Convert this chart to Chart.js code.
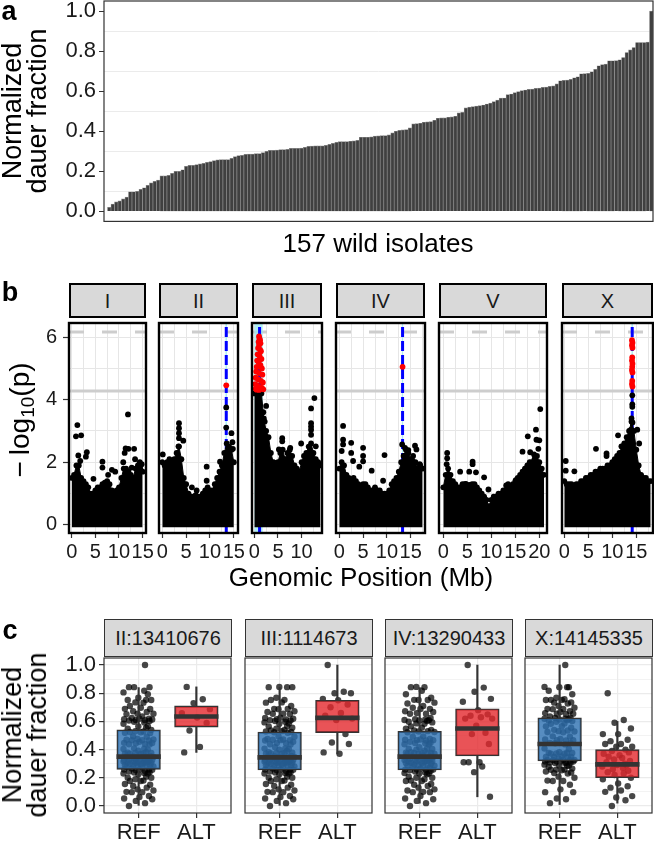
<!DOCTYPE html>
<html>
<head>
<meta charset="utf-8">
<title>Dauer fraction GWAS figure</title>
<script src="https://cdn.jsdelivr.net/npm/chart.js@4.4.1/dist/chart.umd.min.js"></script>
<style>
  body { margin:0; width:654px; height:841px; position:relative; overflow:hidden; background:#fff;
         font-family:"Liberation Sans", Arial, Helvetica, sans-serif; color:#000; }
  canvas { position:absolute; }
  .txt { position:absolute; white-space:nowrap; line-height:1; }
  .strip { position:absolute; background:#d9d9d9; box-sizing:border-box; text-align:center; color:#1a1a1a; font-size:20px; }
</style>
</head>
<body>
<script>
// ---------- panel a : sorted phenotype of 157 wild isolates ----------
const dauerFraction = [
  0.000, 0.020, 0.036, 0.048, 0.053, 0.063, 0.071, 0.098, 0.098, 0.100,
  0.110, 0.118, 0.130, 0.142, 0.150, 0.156, 0.177, 0.177, 0.180, 0.190,
  0.200, 0.200, 0.208, 0.225, 0.230, 0.230, 0.233, 0.237, 0.240, 0.245,
  0.248, 0.253, 0.257, 0.258, 0.258, 0.258, 0.265, 0.273, 0.278, 0.280,
  0.285, 0.286, 0.286, 0.288, 0.288, 0.293, 0.300, 0.305, 0.305, 0.306,
  0.308, 0.308, 0.310, 0.315, 0.315, 0.315, 0.316, 0.320, 0.325, 0.326,
  0.327, 0.327, 0.327, 0.330, 0.335, 0.340, 0.345, 0.348, 0.348, 0.348,
  0.350, 0.352, 0.354, 0.370, 0.370, 0.370, 0.372, 0.376, 0.377, 0.378,
  0.378, 0.382, 0.392, 0.400, 0.404, 0.407, 0.408, 0.417, 0.437, 0.438,
  0.440, 0.445, 0.447, 0.448, 0.455, 0.465, 0.467, 0.467, 0.470, 0.472,
  0.475, 0.492, 0.494, 0.517, 0.520, 0.523, 0.525, 0.528, 0.531, 0.536,
  0.540, 0.548, 0.555, 0.565, 0.566, 0.583, 0.586, 0.593, 0.598, 0.603,
  0.606, 0.609, 0.610, 0.614, 0.615, 0.619, 0.620, 0.624, 0.626, 0.636,
  0.652, 0.654, 0.655, 0.659, 0.667, 0.672, 0.687, 0.688, 0.689, 0.697,
  0.709, 0.727, 0.733, 0.735, 0.752, 0.752, 0.753, 0.757, 0.768, 0.793,
  0.806, 0.818, 0.843, 0.843, 0.843, 0.845, 1.000
];

// ---------- panel b : GWAS, -log10(p) by chromosome ----------
const chromNames = ['I', 'II', 'III', 'IV', 'V', 'X'];
const BIN_MB = 0.5; // envelope of the dense marker cloud, one value per 0.5 Mb from 0
const envI   = [1.5,1.6,1.9,1.9,1.5,1.4,1.3,1.2,1.0,1.0,1.1,1.2,1.2,1.3,1.35,1.4,1.3,1.1,1.0,1.1,1.2,1.5,1.8,1.8,1.7,1.6,1.5,1.8,1.9,1.8,1.7];
const envII  = [2.0,1.9,2.0,2.1,2.0,2.1,2.3,2.5,2.1,1.5,1.3,1.0,0.9,0.9,0.95,0.9,0.9,1.0,1.1,1.2,1.1,1.1,1.3,1.5,1.7,1.9,2.3,2.6,2.5,2.4,2.0];
const envIII = [4.2,4.25,4.25,4.2,3.4,3.0,2.8,2.3,2.0,1.9,2.0,2.3,2.4,2.1,2.3,2.4,2.2,1.9,1.8,1.7,2.0,2.2,2.3,2.5,2.6,2.3,2.1,2.0,1.9];
const envIV  = [1.8,2.0,1.9,1.6,1.5,1.4,1.5,1.4,1.3,1.2,1.3,1.3,1.2,1.1,1.1,1.2,1.1,1.1,1.0,1.0,1.0,1.1,1.3,1.4,1.5,1.7,2.0,2.2,2.4,2.3,2.1,2.2,2.0,1.8,1.9,1.8];
const envV   = [1.2,1.6,1.8,1.6,1.4,1.3,1.2,1.2,1.3,1.3,1.2,1.2,1.3,1.3,1.2,1.1,1.0,0.9,0.8,0.6,0.8,0.9,0.9,1.0,1.0,1.1,1.1,1.3,1.2,1.3,1.4,1.5,1.6,1.7,1.8,1.9,2.0,2.0,2.1,2.2,2.0,1.8,1.6];
const envX   = [1.4,1.3,1.3,1.3,1.2,1.3,1.3,1.4,1.4,1.5,1.5,1.6,1.6,1.7,1.7,1.8,1.8,1.8,1.9,1.9,2.0,2.1,2.2,2.3,2.5,2.6,2.8,3.0,3.3,3.0,2.4,1.9,1.6,1.5,1.5,1.4,1.4];

// markers standing above the cloud: [position Mb, -log10 p]
const hitsI   = [[1.2,3.19],[0.9,2.83],[2.0,2.86],[1.4,2.22],[3.2,2.32],[3.0,2.18],[1.8,2.04],[4.6,1.47],[6.5,2.02],[6.5,1.83],[8.5,1.76],[9.2,1.70],[7.7,1.60],[11.9,3.53],[11.4,2.44],[12.0,2.43],[13.2,2.43],[11.2,2.30],[13.4,2.10],[14.4,2.00],[14.8,1.94],[10.9,2.00],[12.7,1.83]];
const hitsII  = [[3.5,3.25],[3.5,3.09],[3.5,2.93],[3.5,2.77],[4.4,2.69],[3.4,2.51],[9.3,1.86],[9.3,1.41],[6.2,1.20],[7.2,1.10],[12.1,2.02],[13.4,3.75],[13.4,3.11],[14.5,2.93],[14.7,2.64],[14.8,2.43],[13.8,2.30],[0.1,2.25]];
const hitsIII = [[2.5,3.80],[5.9,2.77],[5.9,2.67],[7.6,2.46],[9.9,2.60],[12.0,2.88],[12.0,3.04],[12.0,3.14],[12.0,3.25],[12.0,3.72],[12.7,4.05],[13.0,2.51],[5.2,2.41],[4.2,1.99],[2.2,3.30],[1.9,3.60]];
const hitsIV  = [[0.8,3.16],[0.8,2.72],[0.8,2.57],[2.5,2.62],[0.5,2.36],[2.5,2.30],[5.0,2.46],[5.0,2.20],[5.0,2.03],[4.2,1.86],[2.9,2.04],[6.8,1.73],[9.5,2.23],[9.2,1.41],[13.2,2.57],[13.8,2.46],[14.5,2.39],[15.9,2.53],[16.2,2.41],[16.9,1.94]];
const hitsV   = [[0.8,2.30],[0.8,2.13],[0.7,1.94],[3.5,1.70],[6.1,2.02],[6.1,1.94],[5.4,1.70],[6.8,1.68],[8.5,1.52],[4.7,1.31],[5.4,1.28],[9.4,1.13],[13.1,1.26],[15.1,1.43],[16.5,2.34],[17.6,2.83],[19.3,3.04],[20.2,3.70],[19.4,2.72],[20.0,2.70],[18.1,2.32],[19.8,2.43],[18.9,2.25]];
const hitsX   = [[0.3,2.04],[0.3,1.73],[2.1,1.71],[6.6,2.43],[8.8,2.28],[8.8,2.20],[11.2,2.86],[11.9,2.51],[12.5,2.41],[10.9,2.09],[13.9,3.04],[15.2,3.04],[15.6,2.60],[14.17,4.14],[14.17,3.85],[14.17,3.77],[14.0,3.40],[14.2,3.27]];

// significant markers (red)
const sigII  = [[13.41,4.46]];
const sigIII = [[1.0,6.02],[1.1,5.95],[1.2,5.9],[0.9,5.85],[1.3,5.8],[1.0,5.75],[0.8,5.65],[1.2,5.6],[1.4,5.55],[0.7,5.45],[1.1,5.4],[1.5,5.3],[0.6,5.25],[0.9,5.2],[1.3,5.1],[0.5,5.05],[1.6,5.0],[0.4,4.9],[1.0,4.85],[1.7,4.8],[0.3,4.7],[0.8,4.65],[1.4,4.6],[1.8,4.55],[0.2,4.5],[0.6,4.45],[1.2,4.4],[1.6,4.38],[0.3,4.35],[1.9,4.33],[0.5,4.32],[1.0,4.31]];
const sigIV  = [[13.29,5.05]];
const sigX   = [[14.1,5.9],[14.2,5.82],[14.1,5.74],[14.2,5.66],[14.15,5.35],[14.1,5.25],[14.2,5.15],[14.15,5.05],[14.1,4.95],[14.2,4.87],[14.15,4.6],[14.1,4.5],[14.2,4.42]];

const qtlPeaks = [null, 13.41, 1.11, 13.29, null, 14.15];
const qtlIntervals = [null, [13.2,13.6], [0.0,1.8], [13.1,13.45], null, [13.95,14.35]];
const thresholdEigen = 4.28;
const thresholdBonferroni = 6.16;

// ---------- panel c : phenotype split by genotype at QTL peak markers ----------
const peakMarkers = ['II:13410676', 'III:1114673', 'IV:13290433', 'X:14145335'];
const altII  = [0.845, 0.757, 0.73, 0.687, 0.659, 0.628, 0.589, 0.535, 0.419, 0.38];
const altIII = [1.0, 0.81, 0.80, 0.80, 0.76, 0.75, 0.72, 0.70, 0.66, 0.64, 0.62, 0.61, 0.51, 0.45, 0.44, 0.38, 0.37];
const altIV  = [1.0, 0.84, 0.81, 0.76, 0.74, 0.68, 0.65, 0.64, 0.63, 0.62, 0.62, 0.57, 0.52, 0.51, 0.44, 0.31, 0.31, 0.31, 0.28, 0.24, 0.065];
const altX   = [0.80, 0.61, 0.59, 0.55, 0.51, 0.51, 0.47, 0.46, 0.44, 0.44, 0.42, 0.42, 0.40, 0.39, 0.38, 0.37, 0.36, 0.35, 0.34, 0.33, 0.32, 0.31, 0.30, 0.29, 0.29, 0.28, 0.27, 0.26, 0.25, 0.24, 0.23, 0.22, 0.20, 0.19, 0.16, 0.14, 0.13, 0.11, 0.10, 0.07, 0.06, 0.04, 0.0];
// box stats: [lower whisker, Q1, median, Q3, upper whisker]
const refBoxII  = [0.00, 0.26, 0.35, 0.54, 0.84];
const altBoxII  = [0.38, 0.56, 0.635, 0.71, 0.845];
const refBoxIII = [0.00, 0.255, 0.345, 0.525, 0.84];
const altBoxIII = [0.37, 0.52, 0.625, 0.75, 1.00];
const refBoxIV  = [0.02, 0.255, 0.35, 0.53, 0.84];
const altBoxIV  = [0.065, 0.355, 0.55, 0.69, 1.00];
const refBoxX   = [0.01, 0.32, 0.44, 0.625, 1.00];
const altBoxX   = [0.02, 0.20, 0.295, 0.40, 0.60];

// fixed horizontal jitter pattern for the points (fractions of the half-width)
const JITTER = [-0.62, 0.41, -0.18, 0.87, -0.93, 0.05, 0.66, -0.44, 0.23, -0.78, 0.95, -0.07, 0.52, -0.35, 0.74,
                -0.88, 0.14, -0.56, 0.31, -0.21, 0.81, -0.70, 0.48, -0.02, 0.59, -0.97, 0.36, -0.29, 0.70];

// ---------- setup ----------
const FONT = '"Liberation Sans", Arial, Helvetica, sans-serif';
Chart.defaults.font.family = FONT;
Chart.defaults.color = '#1a1a1a';
Chart.defaults.animation = false;
Chart.defaults.plugins.legend.display = false;
Chart.defaults.plugins.tooltip.enabled = false;

// panel border drawn over the data
Chart.register({
  id: 'frame',
  defaults: { color: '#333', width: 1.2 },
  afterDatasetsDraw(chart, args, opts) {
    const a = chart.chartArea, ctx = chart.ctx;
    ctx.save();
    ctx.strokeStyle = opts.color;
    ctx.lineWidth = opts.width;
    ctx.strokeRect(a.left, a.top, a.right - a.left, a.bottom - a.top);
    ctx.restore();
  }
});

const CLEAR = 'rgba(0,0,0,0)';

function addCanvas(left, top, w, h) {
  const c = document.createElement('canvas');
  c.width = w; c.height = h;
  c.style.left = left + 'px'; c.style.top = top + 'px';
  c.style.width = w + 'px'; c.style.height = h + 'px';
  document.body.appendChild(c);
  return c;
}

function addText(html, cx, cy, style, rotate) {
  const d = document.createElement('div');
  d.className = 'txt';
  d.innerHTML = html;
  d.style.cssText = 'left:' + cx + 'px;top:' + cy + 'px;transform:translate(-50%,-50%)' +
    (rotate ? ' rotate(-90deg)' : '') + ';' + style;
  document.body.appendChild(d);
}

function addStrip(text, left, top, w, h, border) {
  const d = document.createElement('div');
  d.className = 'strip';
  d.textContent = text;
  d.style.cssText = 'left:' + left + 'px;top:' + top + 'px;width:' + w + 'px;height:' + h + 'px;border:' + border +
    ';line-height:' + (h - 2) + 'px;';
  document.body.appendChild(d);
}

function steps(a, b, step) {
  const out = [];
  for (let v = a; v <= b + 1e-9; v += step) out.push(+v.toFixed(4));
  return out;
}
function fixedTicks(values) {
  return scale => { scale.ticks = values.map(v => ({ value: v })); };
}

// ---------- panel a ----------
const isEvenTenth = v => Math.round(v * 10) % 2 === 0;

new Chart(addCanvas(0, 0, 654, 232), {
  type: 'bar',
  data: {
    labels: dauerFraction.map((v, i) => i + 1),
    datasets: [{
      data: dauerFraction,
      backgroundColor: '#404040',
      borderColor: '#8a8a8a',
      borderWidth: 0.7,
      barPercentage: 1,
      categoryPercentage: 1
    }]
  },
  options: {
    responsive: false,
    layout: { padding: { top: 1, right: 1, bottom: 10.6, left: 0 } },
    plugins: { frame: { color: '#333', width: 1.2 } },
    scales: {
      x: { display: false },
      y: {
        min: -0.05, max: 1.05,
        afterBuildTicks: fixedTicks(steps(0, 1, 0.1)),
        afterFit: s => { s.width = 104; s.paddingTop = 0; s.paddingBottom = 0; },
        border: { display: false },
        grid: {
          color: c => isEvenTenth(c.tick.value) ? CLEAR : '#ebebeb',
          tickColor: c => isEvenTenth(c.tick.value) ? '#333' : CLEAR,
          tickLength: 5, lineWidth: 1
        },
        ticks: { font: { size: 22, family: FONT }, color: '#1a1a1a', padding: 3, autoSkip: false,
                 callback: v => isEvenTenth(v) ? v.toFixed(1) : '' }
      }
    }
  }
});

addText('a', 9, 11, 'font-size:27px;font-weight:bold;');
addText('Normalized<br>dauer fraction', 25, 111, 'font-size:27px;line-height:25px;text-align:center;', true);
addText('157 wild isolates', 378, 243, 'font-size:26px;');

// ---------- panel b ----------
const bLayout = [
  { left: 69,  right: 146, min: -0.57, max: 15.71 },
  { left: 159, right: 238, min: -0.69, max: 15.87 },
  { left: 252, right: 322, min: -0.49, max: 14.31 },
  { left: 336, right: 425, min: -0.69, max: 18.0 },
  { left: 439, right: 547, min: -0.90, max: 21.6 },
  { left: 562, right: 653, min: -0.48, max: 18.48 }
];
const chromEnv  = [envI, envII, envIII, envIV, envV, envX];
const chromHits = [hitsI, hitsII, hitsIII, hitsIV, hitsV, hitsX];
const chromSig  = [[], sigII, sigIII, sigIV, [], sigX];
const B_YMIN = -0.26, B_YMAX = 6.45;
const toXY = arr => arr.map(p => ({ x: p[0], y: p[1] }));

bLayout.forEach((f, k) => {
  const showY = k === 0;
  const padL = showY ? 0 : 14, padR = 14;
  const cLeft = showY ? 0 : f.left - padL;
  const canvas = addCanvas(cLeft, 319, f.right + padR - cLeft, 254);

  const datasets = [
    { type: 'line', data: [{ x: f.min, y: thresholdEigen }, { x: f.max, y: thresholdEigen }],
      borderColor: '#cdcdcd', borderWidth: 3, pointRadius: 0, order: 6 },
    { type: 'line', data: [{ x: f.min, y: thresholdBonferroni }, { x: f.max, y: thresholdBonferroni }],
      borderColor: '#cdcdcd', borderWidth: 3, borderDash: [15, 18], pointRadius: 0, order: 6 }
  ];
  if (qtlIntervals[k]) {
    datasets.push({ type: 'line', data: [{ x: qtlIntervals[k][0], y: B_YMAX }, { x: qtlIntervals[k][1], y: B_YMAX }],
      fill: 'start', backgroundColor: 'rgba(150,235,240,0.75)', borderWidth: 0, pointRadius: 0, order: 5 });
  }
  if (qtlPeaks[k] !== null) {
    datasets.push({ type: 'line', data: [{ x: qtlPeaks[k], y: B_YMIN }, { x: qtlPeaks[k], y: B_YMAX }],
      borderColor: '#0000ff', borderWidth: 3, borderDash: [10, 4], pointRadius: 0, order: 4 });
  }
  datasets.push({ type: 'line', data: chromEnv[k].map((v, i) => ({ x: i * BIN_MB, y: v })),
    fill: { value: -0.08 }, backgroundColor: '#000', borderColor: '#000', borderWidth: 1,
    pointRadius: 2.9, pointBackgroundColor: '#000', pointBorderWidth: 0, tension: 0, order: 3 });
  datasets.push({ type: 'scatter', data: toXY(chromHits[k]), pointRadius: 2.9,
    backgroundColor: '#000', borderWidth: 0, order: 2 });
  if (chromSig[k].length) {
    datasets.push({ type: 'scatter', data: toXY(chromSig[k]), pointRadius: 2.9,
      backgroundColor: '#ff0000', borderWidth: 0, order: 1 });
  }

  new Chart(canvas, {
    type: 'scatter',
    data: { datasets },
    options: {
      responsive: false,
      layout: { padding: { top: 2, left: padL, right: padR, bottom: 0 } },
      plugins: { frame: { color: '#000', width: 2.4 } },
      scales: {
        x: {
          type: 'linear', min: f.min, max: f.max,
          afterBuildTicks: fixedTicks(steps(0, f.max, 2.5)),
          afterFit: s => { s.height = 40; s.paddingLeft = 0; s.paddingRight = 0; },
          border: { display: false },
          grid: { color: '#e6e6e6', lineWidth: 1, tickLength: 5, tickWidth: 1.2,
                  tickColor: c => c.tick.value % 5 === 0 ? '#333' : CLEAR },
          ticks: { autoSkip: false, maxRotation: 0, minRotation: 0, padding: 2,
                   font: { size: 20, family: FONT }, color: '#1a1a1a',
                   callback: v => v % 5 === 0 ? String(v) : '' }
        },
        y: {
          min: B_YMIN, max: B_YMAX,
          afterBuildTicks: fixedTicks(steps(0, 6, 1)),
          afterFit: s => { s.width = showY ? 69 : 0; s.paddingTop = 0; s.paddingBottom = 0; },
          border: { display: false },
          grid: { color: '#e6e6e6', lineWidth: 1, drawTicks: showY, tickLength: 6, tickWidth: 1.2,
                  tickColor: c => c.tick.value % 2 === 0 ? '#333' : CLEAR },
          ticks: { display: showY, padding: 6, autoSkip: false, font: { size: 20, family: FONT }, color: '#1a1a1a',
                   callback: v => v % 2 === 0 ? String(v) : '' }
        }
      }
    }
  });
  addStrip(chromNames[k], f.left, 283, f.right - f.left, 35, '2px solid #000');
});

addText('b', 10, 292, 'font-size:27px;font-weight:bold;');
addText('\u2212<span style="margin-left:6px"></span>log<sub style="font-size:19px;vertical-align:-5px;">10</sub>(p)', 21, 420, 'font-size:28px;', true);
addText('Genomic Position (Mb)', 361, 577, 'font-size:26px;');

// ---------- panel c ----------
const cLayout = [
  { left: 104, right: 232 },
  { left: 245, right: 373 },
  { left: 385, right: 513 },
  { left: 525, right: 653 }
];
const altValues = [altII, altIII, altIV, altX];
const refBoxes = [refBoxII, refBoxIII, refBoxIV, refBoxX];
const altBoxes = [altBoxII, altBoxIII, altBoxIV, altBoxX];

// REF isolates are the ones not carrying the ALT allele
function refValues(alt) {
  const pool = dauerFraction.slice();
  alt.forEach(v => {
    let best = 0;
    pool.forEach((p, i) => { if (Math.abs(p - v) < Math.abs(pool[best] - v)) best = i; });
    pool.splice(best, 1);
  });
  return pool;
}
const jittered = (vals, g) => vals.map((v, i) => ({ x: g + JITTER[i % JITTER.length] * 0.27, y: v }));

cLayout.forEach((f, k) => {
  const showY = k === 0;
  const padL = showY ? 0 : 4, padR = 3;
  const cLeft = showY ? 0 : f.left - padL;
  const canvas = addCanvas(cLeft, 654, f.right + padR - cLeft, 187);
  const boxW = 0.75 * (f.right - f.left) / 2.2;
  const rb = refBoxes[k], ab = altBoxes[k];

  new Chart(canvas, {
    type: 'bar',
    data: {
      datasets: [
        { type: 'bar', data: [{ x: 1, y: [rb[2] - 0.014, rb[2] + 0.014] }, { x: 2, y: [ab[2] - 0.014, ab[2] + 0.014] }],
          backgroundColor: '#333', barThickness: boxW, grouped: false, order: -1 },
        { type: 'bar', data: [{ x: 1, y: [rb[1], rb[3]] }, { x: 2, y: [ab[1], ab[3]] }],
          backgroundColor: ['rgba(45,112,178,0.8)', 'rgba(228,40,45,0.8)'],
          borderColor: '#333', borderWidth: 1.4, borderSkipped: false,
          barThickness: boxW, grouped: false, order: 0 },
        { type: 'bar', data: [{ x: 1, y: [rb[0], rb[1]] }, { x: 1, y: [rb[3], rb[4]] },
                               { x: 2, y: [ab[0], ab[1]] }, { x: 2, y: [ab[3], ab[4]] }],
          backgroundColor: '#333', barThickness: 1.5, grouped: false, order: 0 },
        { type: 'scatter', data: jittered(refValues(altValues[k]), 1), pointRadius: 3.2,
          backgroundColor: 'rgba(0,0,0,0.72)', borderWidth: 0, order: 1 },
        { type: 'scatter', data: jittered(altValues[k], 2), pointRadius: 3.2,
          backgroundColor: 'rgba(0,0,0,0.72)', borderWidth: 0, order: 1 }
      ]
    },
    options: {
      responsive: false,
      layout: { padding: { top: 2, left: padL, right: padR, bottom: 0 } },
      plugins: { frame: { color: '#333', width: 1.2 } },
      scales: {
        x: {
          type: 'linear', min: 0.4, max: 2.6, offset: false,
          afterBuildTicks: fixedTicks([1, 2]),
          afterFit: s => { s.height = 28; s.paddingLeft = 0; s.paddingRight = 0; },
          border: { display: false },
          grid: { offset: false, color: '#ebebeb', lineWidth: 1.2, tickColor: '#333', tickLength: 5, tickWidth: 1.2 },
          ticks: { autoSkip: false, maxRotation: 0, padding: 2, font: { size: 22, family: FONT }, color: '#1a1a1a',
                   callback: v => v === 1 ? 'REF' : 'ALT' }
        },
        y: {
          min: -0.05, max: 1.05,
          afterBuildTicks: fixedTicks(steps(0, 1, 0.1)),
          afterFit: s => { s.width = showY ? 104 : 0; s.paddingTop = 0; s.paddingBottom = 0; },
          border: { display: false },
          grid: { color: '#ebebeb', lineWidth: c => isEvenTenth(c.tick.value) ? 1.2 : 0.6,
                  drawTicks: showY, tickLength: 5, tickWidth: 1.2,
                  tickColor: c => isEvenTenth(c.tick.value) ? '#333' : CLEAR },
          ticks: { display: showY, padding: 3, autoSkip: false, font: { size: 22, family: FONT }, color: '#1a1a1a',
                   callback: v => isEvenTenth(v) ? v.toFixed(1) : '' }
        }
      }
    }
  });
  addStrip(peakMarkers[k], f.left, 619, f.right - f.left, 38, '1px solid #333');
});

addText('c', 10, 630, 'font-size:27px;font-weight:bold;');
addText('Normalized<br>dauer fraction', 25, 735, 'font-size:27px;line-height:25px;text-align:center;', true);
</script>
</body>
</html>
